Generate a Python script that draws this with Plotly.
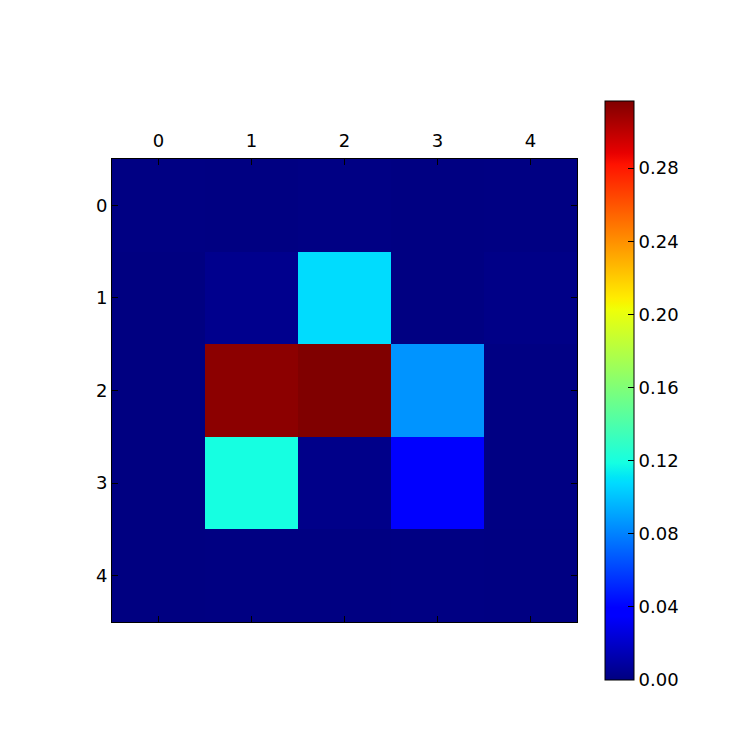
import plotly.graph_objects as go

rows = [0, 1, 2, 3, 4]
cols = [0, 1, 2, 3, 4]
values = [
    [0.0008, 0.0006, 0.0012, 0.0006, 0.0007],
    [0.0003, 0.0035, 0.1080, 0.0006, 0.0020],
    [0.0004, 0.3135, 0.3167, 0.0855, 0.0008],
    [0.0003, 0.1190, 0.0025, 0.0370, 0.0008],
    [0.0004, 0.0005, 0.0006, 0.0008, 0.0006],
]
vmin, vmax = 0.0, 0.3167
cb_ticks = [0.00, 0.04, 0.08, 0.12, 0.16, 0.20, 0.24, 0.28]

# matplotlib "jet" segment data
red = [(0, 0), (0.35, 0), (0.66, 1), (0.89, 1), (1, 0.5)]
green = [(0, 0), (0.125, 0), (0.375, 1), (0.64, 1), (0.91, 0), (1, 0)]
blue = [(0, 0.5), (0.11, 1), (0.34, 1), (0.65, 0), (1, 0)]

def interp(seg, t):
    for (x0, y0), (x1, y1) in zip(seg[:-1], seg[1:]):
        if x0 <= t <= x1:
            return y0 + (y1 - y0) * (t - x0) / (x1 - x0) if x1 > x0 else y1
    return seg[-1][1]

stops = sorted(set([p[0] for p in red + green + blue]))
jet = [[t, "rgb(%d,%d,%d)" % (round(255 * interp(red, t)), round(255 * interp(green, t)), round(255 * interp(blue, t)))] for t in stops]

W = H = 747
OFF = 7  # page offset compensation
font = dict(family="DejaVu Sans", size=18, color="black")
fig = go.Figure(go.Heatmap(
    z=values, x=cols, y=rows, colorscale=jet, zmin=vmin, zmax=vmax,
    colorbar=dict(
        x=(604 - OFF) / W, xanchor="left", thickness=29, thicknessmode="pixels",
        len=579, lenmode="pixels", y=(H - (389.5 - OFF)) / H, yanchor="middle",
        outlinewidth=1, outlinecolor="black",
        tickvals=cb_ticks, tickformat=".2f", ticks="inside", ticklen=6,
        tickcolor="black", tickfont=font,
        xpad=0, ypad=0,
    ),
))

axis_common = dict(
    showgrid=False, zeroline=False, showline=True, linecolor="black", linewidth=1,
    mirror="allticks", ticks="inside", ticklen=6, tickcolor="black",
    tickfont=font, tickvals=[0, 1, 2, 3, 4],
)
fig.update_layout(
    width=W, height=H, margin=dict(l=0, r=0, t=0, b=0),
    paper_bgcolor="white", plot_bgcolor="white",
    xaxis=dict(**axis_common, side="top", ticklabelstandoff=4,
               domain=[(111 - OFF) / W, (576 - OFF) / W], range=[-0.5, 4.5]),
    yaxis=dict(**axis_common, domain=[(H - (621 - OFF)) / H, (H - (158 - OFF)) / H], range=[4.5, -0.5]),
)
fig.write_html("out.html")
